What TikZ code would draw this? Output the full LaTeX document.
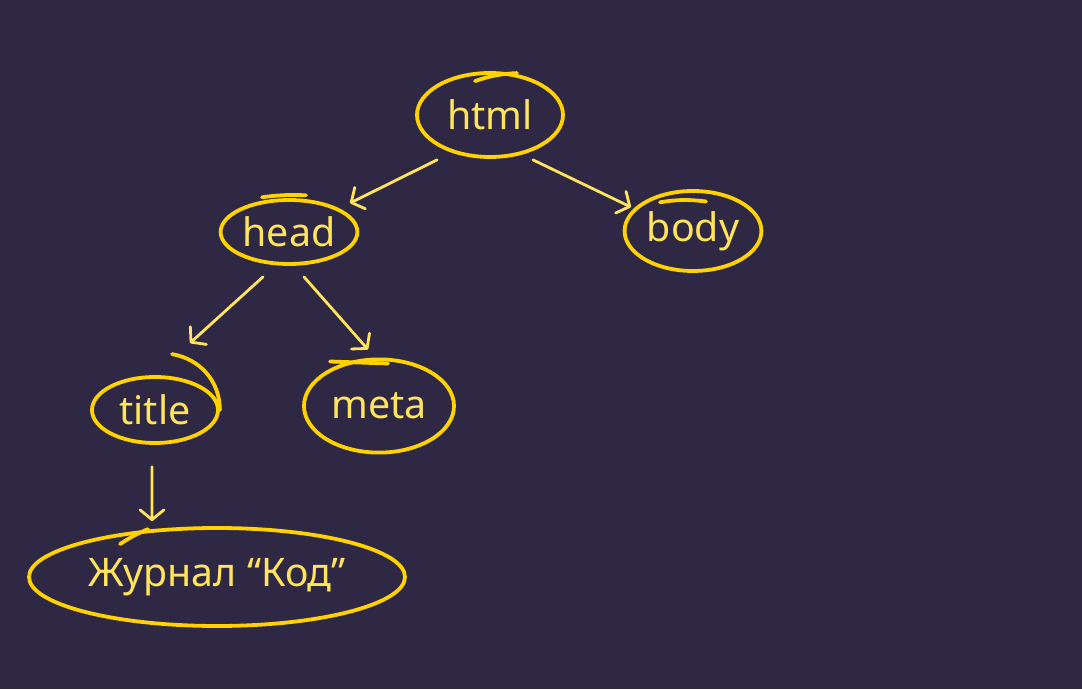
\documentclass[tikz,border=0pt]{standalone}
\usepackage{fontspec}
\setmainfont{Noto Sans}
\usetikzlibrary{positioning,shapes.geometric,arrows.meta}
\definecolor{bgpurple}{HTML}{2E2845}
\definecolor{ringyellow}{HTML}{FFD200}
\definecolor{inkyellow}{HTML}{FFE45C}

\begin{document}
\begin{tikzpicture}[
    tag/.style={
      ellipse,
      draw=ringyellow,
      line width=2.7pt,
      inner sep=0pt,
      text=inkyellow,
      font=\fontsize{28}{34}\selectfont
    },
    tail/.style={
      draw=ringyellow,
      line width=2.7pt,
      line cap=round
    },
    arr/.style={
      draw=inkyellow,
      line width=2pt,
      line cap=round,
      -{Straight Barb[length=7pt,width=17pt,round]}
    },
    node distance=2cm,
    on grid
    ]
    \fill[bgpurple] (0,0) rectangle (27.05,17.225);
    \useasboundingbox (0,0) rectangle (27.05,17.225);

    \node[tag,minimum width=3.65cm,minimum height=2.1cm] (html) at (12.25,14.35) {html};
    \node[tag,minimum width=3.42cm,minimum height=1.6cm,below left=2.925cm and 5.025cm of html] (head) {head};
    \node[tag,minimum width=3.42cm,minimum height=2cm,below right=2.9cm and 5.075cm of html] (body) {body};
    \node[tag,minimum width=3.15cm,minimum height=1.65cm,below left=4.45cm and 3.35cm of head] (title) {title};
    \node[tag,minimum width=3.75cm,minimum height=2.33cm,below right=4.35cm and 2.25cm of head] (meta) {meta};
    \node[tag,minimum width=9.4cm,minimum height=2.45cm,below right=4.175cm and 1.55cm of title] (zhurnal) {Журнал “Код”};

    % overshooting pen strokes
    \draw[tail] ([shift={(-0.375,-0.25)}]html.north) to[bend left=8] ++(1.05,0.2);
    \draw[tail] ([shift={(-0.675,0.02)}]head.north) to[bend left=5] ++(1.1,0.05);
    \draw[tail] ([shift={(-0.825,-0.33)}]body.north) to[bend left=8] ++(1.15,0.02);
    \draw[tail] ([shift={(0.425,0.525)}]title.north) to[out=-10,in=90] (title.east);
    \draw[tail] ([shift={(-1.225,-0.1)}]meta.north) -- ++(1.45,-0.05);
    \draw[tail] ([shift={(-2.425,-0.45)}]zhurnal.north) to[bend left=5] ++(0.7,0.375);

    \draw[arr] ([shift={(-1.325,-0.025)}]html.south) -- ([shift={(1.525,-0.125)}]head.north);
    \draw[arr] ([shift={(1.075,-0.025)}]html.south) -- ([shift={(-1.55,-0.45)}]body.north);
    \draw[arr] ([shift={(-0.65,-0.275)}]head.south) -- ([shift={(0.875,0.8)}]title.north);
    \draw[arr] ([shift={(0.375,-0.275)}]head.south) -- ([shift={(-0.275,0.2)}]meta.north);
    \draw[arr] ([shift={(-0.075,-0.55)}]title.south) -- ([shift={(-1.625,0.125)}]zhurnal.north);

    \end{tikzpicture}
\end{document}
